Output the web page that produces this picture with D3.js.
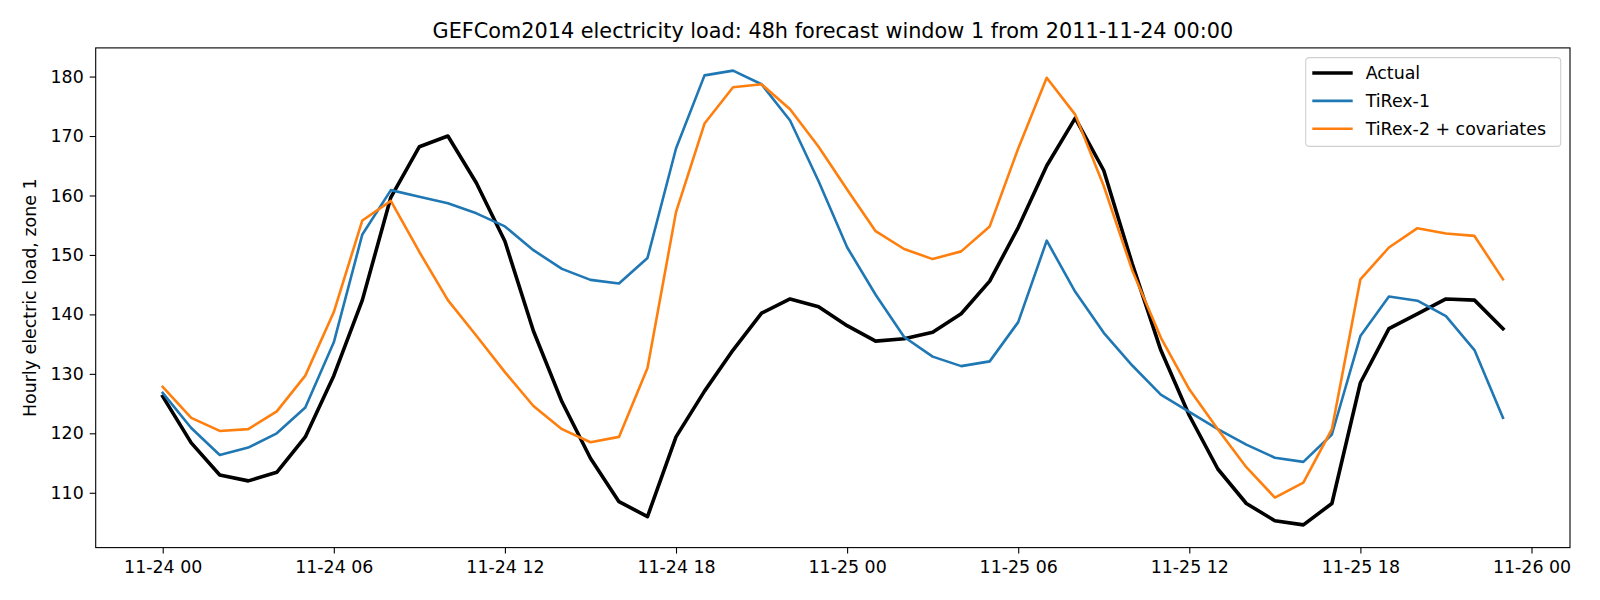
<!DOCTYPE html>
<html>
<head>
<meta charset="utf-8">
<script src="https://cdn.jsdelivr.net/npm/d3@7"></script>
<style>
  html, body { margin: 0; padding: 0; background: #fff; }
  svg { display: block; font-family: "DejaVu Sans", sans-serif; }
</style>
</head>
<body>
<div id="chart"></div>
<script>
// hourly values, 48 steps starting 2011-11-24 00:00
var startTime = '2011-11-24T00:00:00Z';

var actual = [126.2, 118.4, 113.0, 112.0, 113.45, 119.4, 129.7, 142.4, 159.7, 168.2,
    170.0, 162.1, 152.3, 137.2, 125.3, 115.8, 108.5, 106.0, 119.4, 127.1,
    134.0, 140.2, 142.6, 141.3, 138.1, 135.5, 135.9, 137.0, 140.1, 145.6,
    154.6, 165.0, 173.0, 164.2, 148.5, 134.0, 123.0, 114.0, 108.2, 105.3,
    104.6, 108.2, 128.5, 137.6, 140.1, 142.6, 142.4, 137.6];

var tirex1 = [126.8, 120.9, 116.35, 117.6, 120.0, 124.35, 135.3, 153.45, 160.9, 159.8,
    158.7, 157.0, 154.8, 150.8, 147.65, 145.8, 145.2, 149.5, 167.9, 180.2,
    181.0, 178.7, 172.6, 162.4, 151.3, 143.3, 136.2, 132.9, 131.3, 132.1,
    138.7, 152.4, 143.8, 136.9, 131.4, 126.5, 123.6, 120.7, 118.1, 115.9,
    115.2, 119.8, 136.35, 143.0, 142.3, 139.7, 134.0, 122.6];

var tirex2 = [127.8, 122.6, 120.4, 120.7, 123.7, 129.7, 140.4, 155.8, 159.1, 150.5,
    142.4, 136.4, 130.3, 124.6, 120.7, 118.5, 119.4, 131.0, 157.2, 172.1,
    178.2, 178.7, 174.5, 168.2, 161.0, 154.0, 151.0, 149.3, 150.6, 154.8,
    167.9, 179.8, 173.6, 161.6, 147.4, 136.1, 127.4, 120.7, 114.3, 109.2,
    111.7, 120.7, 145.9, 151.25, 154.5, 153.6, 153.2, 145.9];

var seriesNames = ['Actual', 'TiRex-1', 'TiRex-2 + covariates'];
var yTicks = [110, 120, 130, 140, 150, 160, 170, 180];

var titleText = 'GEFCom2014 electricity load: 48h forecast window 1 from 2011-11-24 00:00';
var yLabel = 'Hourly electric load, zone 1';

var width = 1600, height = 600;
var margin = {left: 95.7, right: 30, top: 47.9, bottom: 52.4};
var fontSize = 17.4;

var t0 = new Date(startTime);
var times = actual.map(function(d, i) { return d3.utcHour.offset(t0, i); });

var series = [
    {name: seriesNames[0], values: actual, color: '#000000', width: 3.6},
    {name: seriesNames[1], values: tirex1, color: '#1f77b4', width: 2.6},
    {name: seriesNames[2], values: tirex2, color: '#ff7f0e', width: 2.6}
];

var svg = d3.select('#chart').append('svg')
    .attr('width', width)
    .attr('height', height);

// matplotlib style 5% margins
var tExt = d3.extent(times);
var tPad = (tExt[1] - tExt[0]) * 0.05;
var x = d3.scaleUtc()
    .domain([new Date(+tExt[0] - tPad), new Date(+tExt[1] + tPad)])
    .range([margin.left, width - margin.right]);

var allVals = actual.concat(tirex1, tirex2);
var vExt = d3.extent(allVals);
var vPad = (vExt[1] - vExt[0]) * 0.05;
var y = d3.scaleLinear()
    .domain([vExt[0] - vPad, vExt[1] + vPad])
    .range([height - margin.bottom, margin.top]);

var plotW = width - margin.left - margin.right;
var plotH = height - margin.top - margin.bottom;

svg.append('clipPath').attr('id', 'plot-clip')
    .append('rect')
    .attr('x', margin.left).attr('y', margin.top)
    .attr('width', plotW).attr('height', plotH);

var line = d3.line()
    .x(function(d, i) { return x(times[i]); })
    .y(function(d) { return y(d); });

var plot = svg.append('g').attr('clip-path', 'url(#plot-clip)');
series.forEach(function(s) {
    plot.append('path')
        .datum(s.values)
        .attr('d', line)
        .attr('fill', 'none')
        .attr('stroke', s.color)
        .attr('stroke-width', s.width)
        .attr('stroke-linejoin', 'round')
        .attr('stroke-linecap', 'square');
});

// axes
var xAxis = d3.axisBottom(x)
    .ticks(d3.utcHour.every(6))
    .tickFormat(d3.utcFormat('%m-%d %H'))
    .tickSizeInner(6).tickSizeOuter(0).tickPadding(6);

var yAxis = d3.axisLeft(y)
    .tickValues(yTicks)
    .tickFormat(d3.format('d'))
    .tickSizeInner(6).tickSizeOuter(0).tickPadding(6);

var gx = svg.append('g')
    .attr('transform', 'translate(0,' + (height - margin.bottom) + ')')
    .call(xAxis);
var gy = svg.append('g')
    .attr('transform', 'translate(' + margin.left + ',0)')
    .call(yAxis);

[gx, gy].forEach(function(g) {
    g.select('.domain').remove();
    g.selectAll('.tick line').attr('stroke', '#000').attr('stroke-width', 1.1);
    g.selectAll('.tick text')
        .attr('fill', '#000')
        .style('font-family', '"DejaVu Sans", sans-serif')
        .style('font-size', fontSize + 'px');
});
gx.selectAll('.tick text').attr('dy', '0.78em');

// frame
svg.append('rect')
    .attr('x', margin.left).attr('y', margin.top)
    .attr('width', plotW).attr('height', plotH)
    .attr('fill', 'none')
    .attr('stroke', '#000')
    .attr('stroke-width', 1.1);

// title and y label
svg.append('text')
    .attr('x', margin.left + plotW / 2)
    .attr('y', 37.5)
    .attr('text-anchor', 'middle')
    .style('font-size', '20.8px')
    .text(titleText);

svg.append('text')
    .attr('transform', 'translate(36,' + (margin.top + plotH / 2) + ') rotate(-90)')
    .attr('text-anchor', 'middle')
    .style('font-size', fontSize + 'px')
    .text(yLabel);

// legend
var legend = svg.append('g').attr('transform', 'translate(1305.7,57.6)');
legend.append('rect')
    .attr('width', 255).attr('height', 88.8)
    .attr('rx', 3.5).attr('ry', 3.5)
    .attr('fill', 'rgba(255,255,255,0.8)')
    .attr('stroke', '#d0d0d0')
    .attr('stroke-width', 1.1);

series.forEach(function(s, i) {
    var cy = 15.4 + i * 27.9;
    legend.append('line')
        .attr('x1', 6.6).attr('x2', 47)
        .attr('y1', cy).attr('y2', cy)
        .attr('stroke', s.color)
        .attr('stroke-width', s.width);
    legend.append('text')
        .attr('x', 60)
        .attr('y', cy)
        .attr('dy', '0.36em')
        .style('font-size', fontSize + 'px')
        .text(s.name);
});
</script>
</body>
</html>
